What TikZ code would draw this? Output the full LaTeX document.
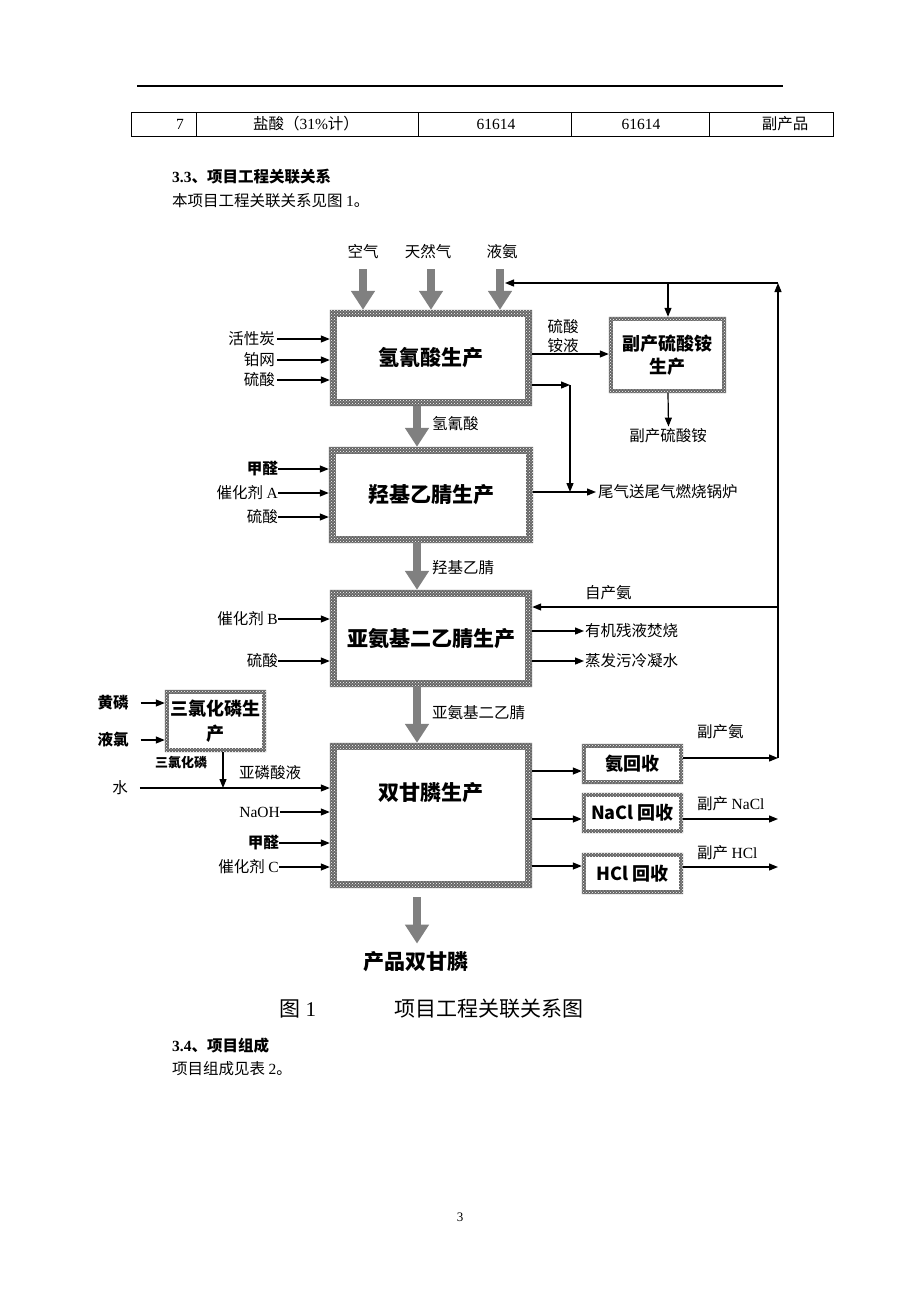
\documentclass[tikz,border=0pt]{standalone}
\usepackage{fontspec}
\setmainfont{Liberation Serif}
\newfontfamily\cjk{Noto Sans CJK SC}
\usetikzlibrary{arrows.meta,patterns,calc}
\colorlet{hatchcol}{gray!80!black}
\newcommand\hatchframe[2]{%
  \fill[hatchcol, even odd rule] ($(#1.north west)+(-#2,-#2)$) rectangle ($(#1.south east)+(#2,#2)$) (#1.north west) rectangle (#1.south east);
  \fill[pattern=crosshatch dots, pattern color=white, even odd rule] ($(#1.north west)+(-#2,-#2)$) rectangle ($(#1.south east)+(#2,#2)$) (#1.north west) rectangle (#1.south east);
}
\begin{document}
\begin{tikzpicture}[x=1pt,y=-1pt,
  t/.style={font=\cjk\fontsize{15.5pt}{18pt}\selectfont, inner sep=0pt},
  tb/.style={font=\cjk\bfseries\fontsize{15.5pt}{18pt}\selectfont, inner sep=0pt},
  ts/.style={font=\cjk\bfseries\fontsize{13pt}{15pt}\selectfont, inner sep=0pt},
  sr/.style={font=\rmfamily\fontsize{15.5pt}{18pt}\selectfont, inner sep=0pt},
  big/.style={font=\cjk\bfseries\fontsize{21pt}{24pt}\selectfont},
  mid/.style={font=\cjk\bfseries\fontsize{18pt}{23pt}\selectfont},
  capt/.style={font=\cjk\fontsize{21pt}{24pt}\selectfont, inner sep=0pt},
  bx/.style={inner sep=0pt, fill=white},
  ln/.style={line width=1.2pt},
  arr/.style={line width=1.2pt, -{Triangle[length=9pt,width=7pt]}},
  garr/.style={draw=gray, line width=8pt, -{Triangle[length=19pt,width=23pt]}}
]
\useasboundingbox (0,0) rectangle (920,1302);
\fill[white] (0,0) rectangle (920,1302);

% header rule and table
\draw[line width=1.2pt] (137,86) -- (783,86);
\draw[line width=1pt] (131,112) rectangle (833,136);
\foreach \xx in {196,418,571,709} \draw[line width=1pt] (\xx,112) -- (\xx,136);
\node[sr] (c1) at (180,124) {7};
\node[t] (c2) at (306,124) {盐酸（{\rmfamily 31\%}计）};
\node[sr] (c3) at (496,124) {61614};
\node[sr] (c4) at (641,124) {61614};
\node[t] (c5) at (785,124) {副产品};

\node[tb, anchor=west] (h33) at (172,177) {{\rmfamily\bfseries 3.3}、项目工程关联关系};
\node[t, anchor=west] (p33) at (172,201) {本项目工程关联关系见图 {\rmfamily 1}。};

% main boxes
\node[bx, minimum width=188pt, minimum height=82pt] (b1) at (431,358) {};
\node[bx, minimum width=190pt, minimum height=82pt] (b2) at (431,495) {};
\node[bx, minimum width=188pt, minimum height=83pt] (b3) at (431,638.5) {};
\node[bx, minimum width=188pt, minimum height=131pt] (b4) at (431,815.5) {};
\hatchframe{b1}{7}
\hatchframe{b2}{7}
\hatchframe{b3}{7}
\hatchframe{b4}{7}
\node[big] (b1t) at (b1) {氢氰酸生产};
\node[big] (b2t) at (b2) {羟基乙腈生产};
\node[big] (b3t) at (b3) {亚氨基二乙腈生产};
\node[big] (b4t) at (431,793) {双甘膦生产};

% small boxes
\node[bx, minimum width=109pt, minimum height=68pt] (s1) at (667.5,355) {};
\node[bx, minimum width=93pt, minimum height=54pt] (s2) at (215.5,721) {};
\node[bx, minimum width=93pt, minimum height=32pt] (s3) at (632.5,764) {};
\node[bx, minimum width=93pt, minimum height=32pt] (s4) at (632.5,813) {};
\node[bx, minimum width=93pt, minimum height=33pt] (s5) at (632.5,873.5) {};
\foreach \b in {s1,s2,s3,s4,s5} {\hatchframe{\b}{4}}
\node[mid, align=center] (s1t) at (s1) {副产硫酸铵\\生产};
\node[font=\cjk\bfseries\fontsize{18pt}{25pt}\selectfont, align=center] (s2t) at (s2) {三氯化磷生\\产};
\node[mid] (s3t) at (s3) {氨回收};
\node[mid] (s4t) at (s4) {NaCl 回收};
\node[mid] (s5t) at (s5) {HCl 回收};

% top inputs
\node[t] (kq) at (363,252) {空气};
\node[t] (trq) at (428,252) {天然气};
\node[t] (ya) at (502,252) {液氨};
\draw[garr] ($(kq.south)+(0,10)$) -- ($(kq.south |- b1.north)+(0,-7)$);
\draw[garr] ($(trq.south)+(3,10)$) -- ($(trq.south |- b1.north)+(3,-7)$);
\draw[garr] ($(ya.south)+(-2,10)$) -- ($(ya.south |- b1.north)+(-2,-7)$);

% vertical main flow
\draw[garr] ($(b1.south)+(-14,7)$) -- ($(b2.north)+(-14,-7)$);
\draw[garr] ($(b2.south)+(-14,7)$) -- ($(b3.north)+(-14,-7)$);
\draw[garr] ($(b3.south)+(-14,7)$) -- ($(b4.north)+(-14,-7)$);
\node[font=\cjk\bfseries\fontsize{21pt}{24pt}\selectfont, inner sep=0pt] (pd) at (416,962) {产品双甘膦};
\draw[garr] ($(b4.south)+(-14,16)$) -- ($(pd.north)+(1,-8)$);
\node[t, anchor=west] (l1) at (432,424) {氢氰酸};
\node[t, anchor=west] (l2) at (432,568) {羟基乙腈};
\node[t, anchor=west] (l3) at (432,713) {亚氨基二乙腈};

% box1 left inputs
\node[t, anchor=east] (i11) at (275,339) {活性炭};
\node[t, anchor=east] (i12) at (275,360) {铂网};
\node[t, anchor=east] (i13) at (275,380) {硫酸};
\foreach \n in {i11,i12,i13} \draw[arr] ($(\n.east)+(2,0)$) -- ($(\n.east -| b1.west)+(-7,0)$);

% box2 left inputs
\node[tb, anchor=east] (i21) at (278,469) {甲醛};
\node[t, anchor=east] (i22) at (278,493) {催化剂 {\rmfamily A}};
\node[t, anchor=east] (i23) at (278,517) {硫酸};
\foreach \n in {i21,i22,i23} \draw[arr] (\n.east) -- ($(\n.east -| b2.west)+(-7,0)$);

% box3 left inputs
\node[t, anchor=east] (i31) at (278,619) {催化剂 {\rmfamily B}};
\node[t, anchor=east] (i32) at (278,661) {硫酸};
\foreach \n in {i31,i32} \draw[arr] (\n.east) -- ($(\n.east -| b3.west)+(-7,0)$);

% PCl3 production
\node[tb] (hl) at (113,703) {黄磷};
\node[tb] (yl) at (113,740) {液氯};
\draw[arr] ($(hl.east)+(12,0)$) -- ($(hl.east -| s2.west)+(-4,0)$);
\draw[arr] ($(yl.east)+(12,0)$) -- ($(yl.east -| s2.west)+(-4,0)$);
\node[ts] (pcl) at (181,762) {三氯化磷};
\node[t] (shui) at (120,788) {水};
\coordinate (wj) at (223,788);
\draw[arr] ($(s2.south)+(7.5,4)$) -- (wj);
\draw[arr] ($(shui.east)+(12,0)$) -- ($(shui.east -| b4.west)+(-7,0)$);
\node[t] (ylsy) at (270,773) {亚磷酸液};

% box4 left inputs
\node[sr, anchor=east] (i41) at (280,812) {NaOH};
\node[tb, anchor=east] (i42) at (279,843) {甲醛};
\node[t, anchor=east] (i43) at (279,867) {催化剂 {\rmfamily C}};
\foreach \n in {i41,i42,i43} \draw[arr] (\n.east) -- ($(\n.east -| b4.west)+(-7,0)$);

% box1 right outputs
\node[t, align=center, font=\cjk\fontsize{15.5pt}{19pt}\selectfont] (lsa) at (563,336.5) {硫酸\\铵液};
\draw[arr] ($(b1.east)+(7,-4)$) -- ($(s1.west)+(-4,-1)$);
\coordinate (j1) at (570,385);
\coordinate (j2) at (570,492);
\draw[arr] ($(b1.east |- j1)+(7,0)$) -- (j1);
\draw[arr] (j1) -- (j2);
\node[t, anchor=west] (wq) at (598,492) {尾气送尾气燃烧锅炉};
\draw[arr] ($(b2.east |- wq.west)+(7,0)$) -- ($(wq.west)+(-2,0)$);
\node[t] (fcs) at (668,436) {副产硫酸铵};
\draw[arr] ($(s1.south)+(0.5,4)$) -- ($(fcs.north)+(0.5,-2)$);

% ammonia loop
\coordinate (ra) at (778,758);
\coordinate (rt) at (778,283);
\coordinate (lt) at (505,283);
\coordinate (mt) at (668,283);
\coordinate (zc) at (778,607);
\draw[arr] ($(s3.east)+(4,-6)$) -- (ra);
\draw[arr] (ra) -- (rt);
\draw[arr] (rt) -- (lt);
\draw[arr] (mt) -- ($(s1.north)+(0.5,-4)$);
\draw[arr] (zc) -- ($(b3.east |- zc)+(7,0)$);
\node[t, anchor=west] (zca) at (585,593) {自产氨};
\node[t, anchor=west] (fca) at (697,732) {副产氨};

% box3 right outputs
\node[t, anchor=west] (o31) at (585,631) {有机残液焚烧};
\node[t, anchor=west] (o32) at (585,661) {蒸发污冷凝水};
\foreach \n in {o31,o32} \draw[arr] ($(b3.east |- \n.west)+(7,0)$) -- ($(\n.west)+(-1,0)$);

% box4 right outputs
\draw[arr] ($(b4.east)+(7,-44.5)$) -- ($(s3.west)+(-4,7)$);
\draw[arr] ($(b4.east)+(7,3.5)$) -- ($(s4.west)+(-4,6)$);
\draw[arr] ($(b4.east)+(7,50.5)$) -- ($(s5.west)+(-4,-7.5)$);
\coordinate (ona) at (778,819);
\coordinate (ohc) at (778,867);
\draw[arr] ($(s4.east)+(4,6)$) -- (ona);
\draw[arr] ($(s5.east)+(4,-6.5)$) -- (ohc);
\node[t, anchor=west] (fna) at (697,804) {副产 {\rmfamily NaCl}};
\node[t, anchor=west] (fhc) at (697,853) {副产 {\rmfamily HCl}};

% caption and following text
\node[capt] (fig1) at (298,1009) {图 {\rmfamily 1}};
\node[capt] (fig2) at (489,1009) {项目工程关联关系图};
\node[tb, anchor=west] (h34) at (172,1046) {{\rmfamily\bfseries 3.4}、项目组成};
\node[t, anchor=west] (p34) at (172,1069) {项目组成见表 {\rmfamily 2}。};
\node[font=\rmfamily\fontsize{13pt}{15pt}\selectfont, inner sep=0pt] (pg) at (460,1217) {3};
\end{tikzpicture}
\end{document}
